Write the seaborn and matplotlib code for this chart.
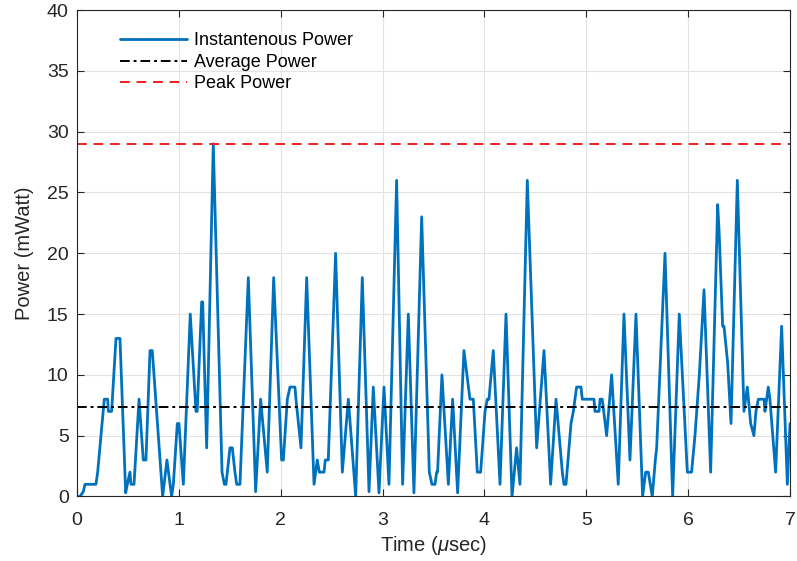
import matplotlib
matplotlib.use("Agg")
import matplotlib.pyplot as plt
import seaborn as sns
import pandas as pd

# Instantaneous power trace (time in microseconds, power in mW)
time_us = [
    0.000, 0.030, 0.062, 0.079, 0.186, 0.203, 0.268, 0.301, 0.308, 0.340,
    0.383, 0.422, 0.478, 0.494, 0.520, 0.530, 0.560, 0.609, 0.651, 0.677,
    0.717, 0.739, 0.841, 0.883, 0.913, 0.929, 0.946, 0.985, 1.001, 1.044,
    1.112, 1.168, 1.180, 1.224, 1.234, 1.273, 1.338, 1.424, 1.447, 1.463,
    1.502, 1.525, 1.551, 1.568, 1.600, 1.682, 1.754, 1.803, 1.868, 1.931,
    2.009, 2.026, 2.065, 2.091, 2.140, 2.150, 2.199, 2.255, 2.327, 2.359,
    2.379, 2.425, 2.438, 2.467, 2.539, 2.605, 2.664, 2.736, 2.801, 2.867,
    2.909, 2.965, 3.014, 3.063, 3.138, 3.197, 3.253, 3.308, 3.384, 3.459,
    3.485, 3.515, 3.531, 3.540, 3.583, 3.646, 3.688, 3.737, 3.799, 3.858,
    3.891, 3.930, 3.963, 4.006, 4.028, 4.045, 4.055, 4.087, 4.153, 4.212,
    4.271, 4.316, 4.349, 4.421, 4.513, 4.585, 4.650, 4.703, 4.765, 4.781,
    4.801, 4.850, 4.873, 4.889, 4.905, 4.948, 4.961, 5.076, 5.085, 5.125,
    5.135, 5.157, 5.200, 5.249, 5.314, 5.370, 5.429, 5.488, 5.553, 5.583,
    5.609, 5.648, 5.678, 5.691, 5.773, 5.848, 5.913, 5.992, 6.034, 6.067,
    6.110, 6.156, 6.221, 6.290, 6.303, 6.339, 6.352, 6.388, 6.421, 6.483,
    6.548, 6.581, 6.614, 6.646, 6.666, 6.689, 6.745, 6.754, 6.771, 6.787,
    6.803, 6.859, 6.918, 6.974, 7.000,
]
power_mw = [
    0, 0, 0.4, 1, 1, 2, 8, 8, 7, 7,
    13, 13, 0.3, 1, 2, 1, 1, 8, 3, 3,
    12, 12, 0, 3, 1, 0, 1, 6, 6, 1,
    15, 7, 7, 16, 16, 4, 29, 2, 1, 1,
    4, 4, 2, 1, 1, 18, 0.4, 8, 2, 18,
    3, 3, 8, 9, 9, 8, 4, 18, 1, 3,
    2, 2, 3, 3, 20, 2, 8, 0, 18, 0.4,
    9, 0.3, 9, 1, 26, 1, 15, 0.3, 23, 2,
    1, 1, 2, 2, 10, 1, 8, 0.3, 12, 8,
    8, 2, 2, 7, 8, 8, 9, 12, 1, 15,
    0, 4, 1, 26, 4, 12, 1, 8, 2, 1,
    1, 6, 7, 8, 9, 9, 8, 8, 7, 7,
    8, 8, 5, 10, 1, 15, 3, 15, 0, 2,
    2, 0, 3, 4, 20, 0, 15, 2, 2, 5,
    10, 17, 2, 24, 22, 14, 14, 11, 6, 26,
    7, 9, 6, 5, 7, 8, 8, 7, 8, 9,
    8, 2, 14, 1, 6,
]
avg_power = 7.4
peak_power = 29.0

x_ticks = [0, 1, 2, 3, 4, 5, 6, 7]
y_ticks = [0, 5, 10, 15, 20, 25, 30, 35, 40]

sns.set_style("ticks")
plt.rcParams["font.family"] = ["Liberation Sans", "DejaVu Sans"]
plt.rcParams["mathtext.fontset"] = "custom"
plt.rcParams["mathtext.it"] = "Liberation Sans:italic"
plt.rcParams["mathtext.rm"] = "Liberation Sans"

df = pd.DataFrame({"t": time_us, "p": power_mw})

fig = plt.figure(figsize=(7.97, 5.61), dpi=100)
ax = fig.add_axes([0.0966, 0.115, 0.8946, 0.867])

sns.lineplot(data=df, x="t", y="p", ax=ax, color="#0072BD", linewidth=2.0,
             label="Instantenous Power", sort=False, estimator=None,
             solid_joinstyle="round", solid_capstyle="round")
ax.axhline(avg_power, color="black", linewidth=1.4,
           linestyle=(0, (5, 2, 1.5, 2)), label="Average Power")
ax.axhline(peak_power, color="#f01e1e", linewidth=1.4,
           linestyle=(0, (5, 3.5)), label="Peak Power")

ax.set_xlim(0, 7)
ax.set_ylim(0, 40)
ax.set_xticks(x_ticks)
ax.set_yticks(y_ticks)
ax.grid(True, color="#e3e3e3", linewidth=0.8)
ax.set_axisbelow(True)

dark = "#262626"
for s in ax.spines.values():
    s.set_visible(True)
    s.set_color(dark)
    s.set_linewidth(0.8)
ax.tick_params(direction="in", length=5, width=0.8, colors=dark,
               labelsize=14, top=True, right=True)
ax.tick_params(axis="x", pad=11)
ax.tick_params(axis="y", pad=6)

ax.set_xlabel(r"Time ($\mu$sec)", fontsize=14.5, color=dark, labelpad=4)
ax.set_ylabel("Power (mWatt)", fontsize=14.5, color=dark, labelpad=9)

leg = ax.legend(loc="upper left", bbox_to_anchor=(0.06, 0.954),
                frameon=False, fontsize=13, handlelength=3.7,
                handletextpad=0.4, labelspacing=0.25, borderpad=0,
                borderaxespad=0)
for txt in leg.get_texts():
    txt.set_color("black")

fig.savefig("out.png", dpi=100)
